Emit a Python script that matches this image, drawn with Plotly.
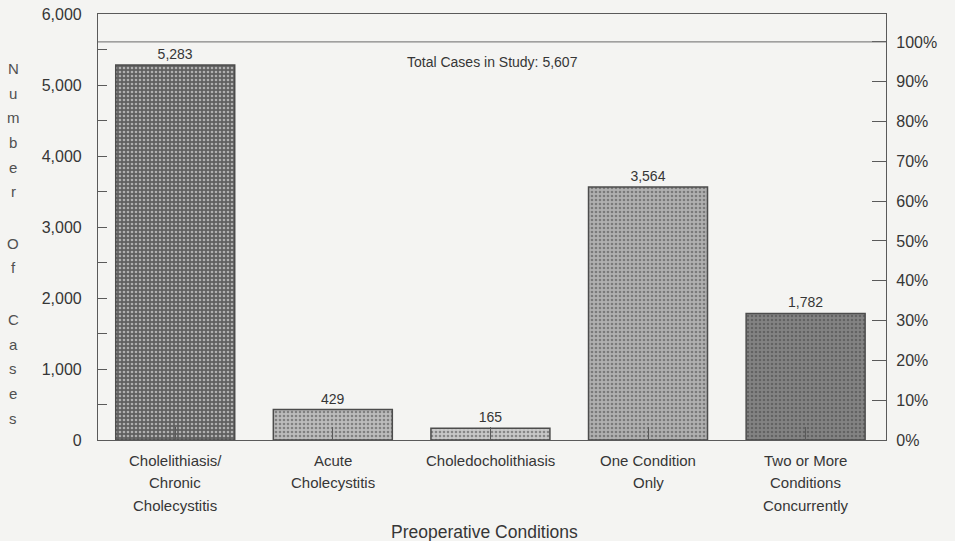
import plotly.graph_objects as go

# Preoperative conditions and number of cases
categories = [
    "Cholelithiasis/<br>Chronic<br>Cholecystitis",
    "Acute<br>Cholecystitis",
    "Choledocholithiasis",
    "One Condition<br>Only",
    "Two or More<br>Conditions<br>Concurrently",
]
cases = [5283, 429, 165, 3564, 1782]
total_cases = 5607

left_ticks = [0, 500, 1000, 1500, 2000, 2500, 3000, 3500, 4000, 4500, 5000, 5500, 6000]
left_labels = ["0", "", "1,000", "", "2,000", "", "3,000", "", "4,000", "", "5,000", "", "6,000"]
pct_ticks = [0, 10, 20, 30, 40, 50, 60, 70, 80, 90, 100]
pct_labels = [f"{p}%" for p in pct_ticks]
y_title = "Number Of Cases"

# grey, grainy fills for the bars
base_cols = ["#606060", "#bcbcbc", "#c8c8c8", "#b0b0b0", "#838383"]
grain_cols = ["#8c8c8c", "#969696", "#a2a2a2", "#888888", "#a8a8a8"]

W, H = 955, 541
L, R, T, B = 98, 69, 14, 101
plot_h = H - T - B
ymax = 6000
ink = "#363636"
axis_col = "#5a5a5a"
font = "Liberation Sans, Arial, sans-serif"

fig = go.Figure()
fig.add_trace(go.Bar(
    x=categories, y=cases,
    marker=dict(
        color=base_cols,
        line=dict(color="#4c4c4c", width=1.5),
        pattern=dict(shape=".", fgcolor=grain_cols, bgcolor=base_cols,
                     size=4, solidity=0.35),
    ),
    width=0.755,
    text=[f"{v:,}" for v in cases],
    textposition="outside",
    textfont=dict(size=14, color=ink, family=font),
    cliponaxis=False,
    showlegend=False,
    hoverinfo="x+y",
))
# percentage of all cases on the right-hand axis
fig.add_trace(go.Scatter(
    x=categories, y=[v / total_cases * 100 for v in cases],
    yaxis="y2", mode="markers", marker=dict(opacity=0),
    showlegend=False, hoverinfo="skip",
))

# 100 % reference line
fig.add_shape(type="line", xref="paper", x0=0, x1=1, yref="y",
              y0=total_cases, y1=total_cases,
              line=dict(color="#6a6a6a", width=1))

annotations = [
    dict(text=f"Total Cases in Study: {total_cases:,}", xref="paper", x=0.5,
         yref="y", y=total_cases, yanchor="top", yshift=-10, showarrow=False,
         font=dict(size=14, color=ink, family=font)),
    dict(text="Preoperative Conditions", xref="paper", x=0.49,
         yref="paper", y=(T + plot_h - 532) / plot_h, yanchor="middle",
         showarrow=False, font=dict(size=17.5, color=ink, family=font)),
]

# category labels, one line at a time for wider line spacing
for cat in categories:
    for j, line in enumerate(cat.split("<br>")):
        annotations.append(dict(
            text=line, x=cat, xref="x", y=0, yref="y", yanchor="middle",
            yshift=-(20 + j * 22.5), showarrow=False,
            font=dict(size=15, color=ink, family=font)))

# stacked vertical axis title, a wider gap between words
step = 24.6
offsets = []
pos = 0.0
for ch in y_title:
    if ch == " ":
        pos += 1.1 * step
        continue
    offsets.append((ch, pos))
    pos += step
last = offsets[-1][1]
for ch, off in offsets:
    py = 418 - last + off
    annotations.append(dict(
        text=ch, xref="paper", x=(13 - L) / (W - L - R), xanchor="center",
        yref="paper", y=(T + plot_h - py) / plot_h, yanchor="middle",
        showarrow=False, font=dict(size=15, color="#505050", family=font)))

fig.update_layout(
    width=W, height=H,
    margin=dict(l=L, r=R, t=T, b=B, pad=0, autoexpand=False),
    paper_bgcolor="#f4f4f2", plot_bgcolor="#f4f4f2",
    font=dict(family=font, color=ink),
    bargap=0.245,
    xaxis=dict(
        range=[-0.49, 4.51], showticklabels=False, automargin=False,
        ticks="inside", ticklen=13, tickcolor=axis_col, tickwidth=1,
        showline=True, linecolor=axis_col, linewidth=1.2, mirror=True,
        showgrid=False, zeroline=False, fixedrange=True,
    ),
    yaxis=dict(
        range=[0, ymax], tickvals=left_ticks, ticktext=left_labels,
        automargin=False,
        ticks="inside", ticklen=9, tickcolor=axis_col, tickwidth=1,
        ticklabelstandoff=12,
        tickfont=dict(size=16, color=ink, family=font),
        showline=True, linecolor=axis_col, linewidth=1.2,
        showgrid=False, zeroline=False, fixedrange=True,
    ),
    yaxis2=dict(
        overlaying="y", side="right", automargin=False,
        range=[0, ymax / total_cases * 100], tickvals=pct_ticks,
        ticktext=pct_labels, ticks="inside", ticklen=14, tickcolor=axis_col,
        tickwidth=1, ticklabelstandoff=6,
        tickfont=dict(size=16, color=ink, family=font),
        showline=True, linecolor=axis_col, linewidth=1.2,
        showgrid=False, zeroline=False, fixedrange=True,
    ),
    annotations=annotations,
)

fig.write_html("out.html")
